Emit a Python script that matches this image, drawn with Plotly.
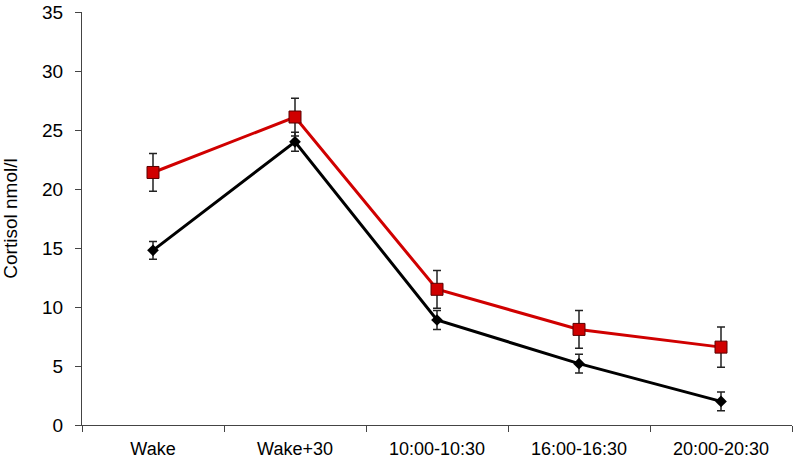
import plotly.graph_objects as go

categories = ["Wake", "Wake+30", "10:00-10:30", "16:00-16:30", "20:00-20:30"]
black_values = [14.8, 24.0, 8.9, 5.2, 2.0]
black_errors = [0.75, 0.8, 0.8, 0.8, 0.8]
red_values = [21.4, 26.1, 11.5, 8.1, 6.6]
red_errors = [1.6, 1.6, 1.6, 1.6, 1.7]
y_ticks = [0, 5, 10, 15, 20, 25, 30, 35]

fig = go.Figure()
fig.add_trace(go.Scatter(
    x=categories, y=black_values, mode="lines+markers",
    line=dict(color="black", width=3),
    marker=dict(symbol="diamond", size=9, color="black"),
    error_y=dict(type="data", array=black_errors, color="#222222", thickness=1.5, width=4),
    showlegend=False,
))
fig.add_trace(go.Scatter(
    x=categories, y=red_values, mode="lines+markers",
    line=dict(color="#d00000", width=3),
    marker=dict(symbol="square", size=12, color="#d00000", line=dict(color="#5a0000", width=1)),
    error_y=dict(type="data", array=red_errors, color="#222222", thickness=1.5, width=4),
    showlegend=False,
))

fig.update_layout(
    width=793, height=465,
    margin=dict(l=82, r=1, t=12, b=40),
    paper_bgcolor="white", plot_bgcolor="white",
    font=dict(family="Liberation Sans, Arial, sans-serif", size=18, color="black"),
)
fig.update_xaxes(
    type="category", range=[-0.5, 4.5], tickson="boundaries",
    showline=True, linecolor="#444444", linewidth=1,
    ticks="outside", ticklen=6, tickcolor="#444444",
    showgrid=False, zeroline=False, ticklabelstandoff=7,
    tickfont=dict(size=18), automargin=False,
)
fig.update_yaxes(
    range=[0, 35], tickvals=y_ticks, showline=True, linecolor="#444444", linewidth=1,
    ticks="outside", ticklen=6, tickcolor="#444444",
    showgrid=False, zeroline=False, ticklabelstandoff=8,
    ticklabeloverflow="allow",
    title=dict(text="Cortisol nmol/l", font=dict(size=19), standoff=32),
    tickfont=dict(size=19), automargin=False,
)

fig.write_html(
    "out.html",
    config={"displayModeBar": False},
    post_script="document.body.style.margin='0';document.body.style.overflow='hidden';",
)
